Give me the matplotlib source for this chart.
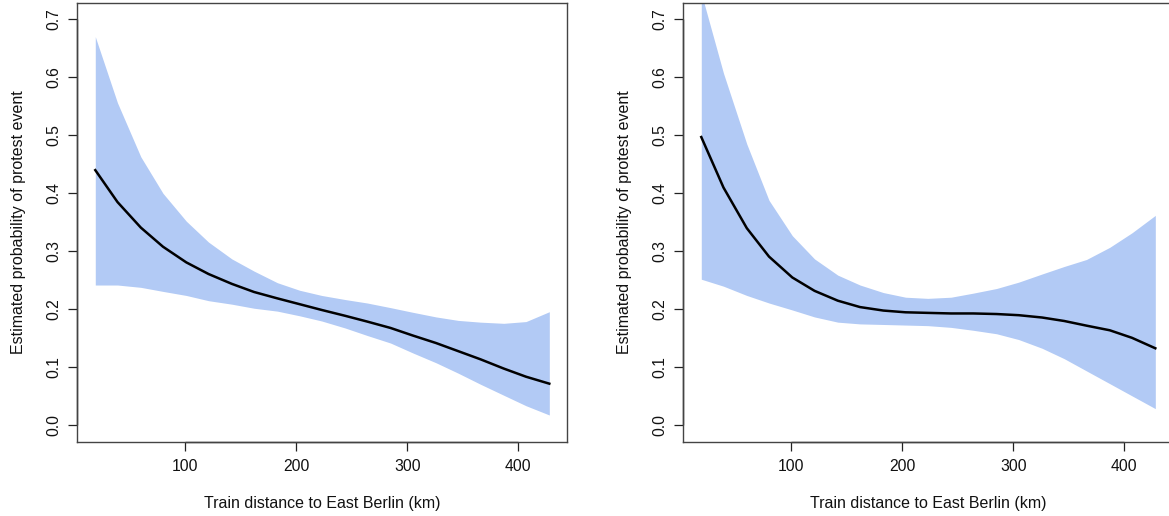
import matplotlib
matplotlib.use("Agg")
import matplotlib.pyplot as plt

# Train distance to East Berlin (km)
distance = [19, 39, 60, 80, 101, 121, 142, 162, 183, 203, 223,
            244, 264, 285, 305, 326, 346, 366, 387, 407, 428]

# Left panel
left_mean = [0.440, 0.385, 0.341, 0.308, 0.281, 0.261, 0.244, 0.230, 0.219, 0.209, 0.199,
             0.189, 0.179, 0.168, 0.155, 0.142, 0.128, 0.114, 0.098, 0.084, 0.072]
left_lower = [0.242, 0.242, 0.238, 0.231, 0.224, 0.215, 0.209, 0.202, 0.197, 0.189, 0.180,
              0.168, 0.155, 0.142, 0.125, 0.108, 0.090, 0.071, 0.052, 0.034, 0.018]
left_upper = [0.670, 0.556, 0.463, 0.400, 0.352, 0.316, 0.287, 0.266, 0.246, 0.233, 0.224,
              0.217, 0.211, 0.203, 0.195, 0.187, 0.181, 0.178, 0.176, 0.179, 0.196]

# Right panel
right_mean = [0.497, 0.410, 0.340, 0.291, 0.255, 0.232, 0.215, 0.204, 0.198, 0.195, 0.194,
              0.193, 0.193, 0.192, 0.190, 0.186, 0.180, 0.172, 0.164, 0.151, 0.133]
right_lower = [0.252, 0.240, 0.224, 0.211, 0.199, 0.187, 0.178, 0.175, 0.174, 0.173, 0.172,
               0.169, 0.164, 0.158, 0.148, 0.133, 0.115, 0.094, 0.072, 0.051, 0.029]
right_upper = [0.745, 0.607, 0.485, 0.388, 0.327, 0.287, 0.259, 0.242, 0.229, 0.221, 0.219,
               0.221, 0.228, 0.236, 0.247, 0.261, 0.274, 0.286, 0.307, 0.332, 0.362]

x_ticks = [100, 200, 300, 400]
y_ticks = [0.0, 0.1, 0.2, 0.3, 0.4, 0.5, 0.6, 0.7]
y_ticklabels = ["0.0", "0.1", "0.2", "0.3", "0.4", "0.5", "0.6", "0.7"]

xlabel = "Train distance to East Berlin (km)"
ylabel = "Estimated probability of protest event"

plt.rcParams['font.family'] = ['Liberation Sans', 'DejaVu Sans']

W, H = 1169, 516
fig = plt.figure(figsize=(W / 100, H / 100), dpi=100)

band_color = "#B2CAF5"


def make_panel(left_px, mean, lower, upper):
    right_px = left_px + 490
    top_px, bottom_px = 3, 441.7
    ax = fig.add_axes([left_px / W, (H - bottom_px) / H,
                       (right_px - left_px) / W, (bottom_px - top_px) / H])
    ax.fill_between(distance, lower, upper, color=band_color, lw=0)
    ax.plot(distance, mean, color="black", lw=1.8)
    ax.set_xlim(2.8, 444.2)
    ax.set_ylim(-0.028, 0.728)
    ax.set_xticks(x_ticks)
    ax.set_yticks(y_ticks)
    ax.set_yticklabels(y_ticklabels)
    for s in ax.spines.values():
        s.set_color("#444444")
        s.set_linewidth(1.0)
    ax.tick_params(direction="out", length=6.5, width=0.9, color="#222222",
                   labelsize=11.3, labelcolor="#111111")
    ax.tick_params(axis="x", pad=6)
    ax.tick_params(axis="y", pad=5, labelrotation=90)
    for lab in ax.get_yticklabels():
        lab.set_va("center")
    # axis lines between first and last ticks (R style)
    ax.plot([x_ticks[0], x_ticks[-1]], [-0.028, -0.028], color="#222222", lw=1.0,
            clip_on=False, solid_capstyle="butt")
    ax.plot([2.8, 2.8], [y_ticks[0], y_ticks[-1]], color="#222222", lw=1.0,
            clip_on=False, solid_capstyle="butt")
    ax.set_xlabel(xlabel, fontsize=11.5, labelpad=15.5, color="#111111")
    ax.set_ylabel(ylabel, fontsize=11.5, labelpad=14.5, color="#111111")
    return ax


make_panel(77.3, left_mean, left_lower, left_upper)
make_panel(683.3, right_mean, right_lower, right_upper)

fig.savefig("out.png", dpi=100)
